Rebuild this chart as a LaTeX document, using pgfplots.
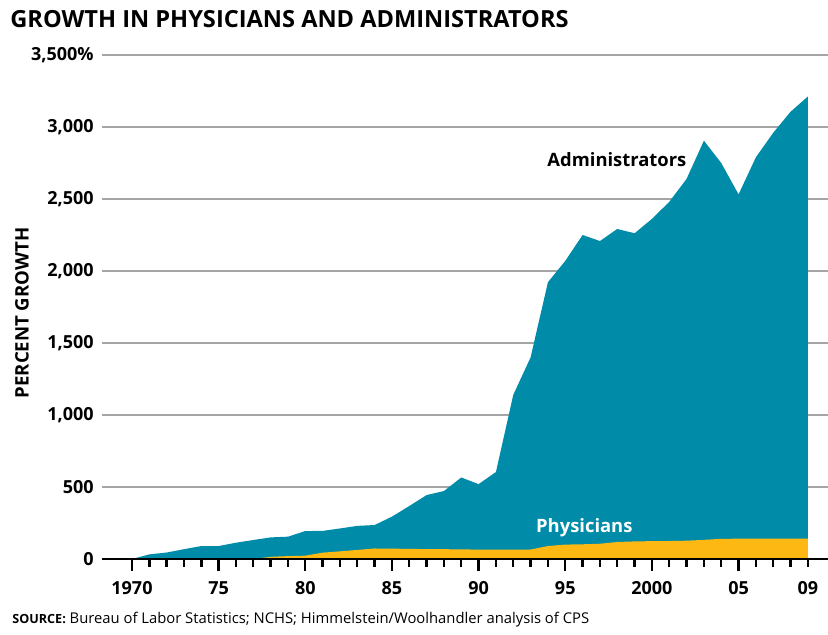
\documentclass[border=0pt]{standalone}
\usepackage{pgfplots}
\pgfplotsset{compat=1.18}
\usepackage{fontspec}
\setmainfont{Open Sans}
\definecolor{admin}{RGB}{0,140,168}
\definecolor{phys}{RGB}{253,184,19}
\definecolor{gridgray}{RGB}{165,165,165}

\pgfplotstableread{
year admin
1970 0
1971 32
1972 45
1973 68
1974 90
1975 90
1976 113
1977 132
1978 150
1979 155
1980 194
1981 195
1982 212
1983 230
1984 236
1985 294
1986 368
1987 444
1988 472
1989 566
1990 520
1991 604
1992 1140
1993 1400
1994 1922
1995 2070
1996 2250
1997 2208
1998 2292
1999 2262
2000 2362
2001 2480
2002 2640
2003 2905
2004 2750
2005 2532
2006 2790
2007 2960
2008 3106
2009 3212
}\admintab

\pgfplotstableread{
year phys
1970 0
1977 0
1978 15
1979 20
1980 23
1981 44
1982 53
1983 63
1984 73
1985 72
1986 70
1987 69
1988 68
1989 67
1990 65
1991 65
1992 65
1993 66
1994 90
1995 100
1996 102
1997 106
1998 118
1999 122
2000 124
2001 125
2002 127
2003 133
2004 140
2005 141
2006 141
2007 141
2008 141
2009 141
}\phystab

\begin{document}
\begin{tikzpicture}
\useasboundingbox (-51pt,-38pt) rectangle (363pt,279.5pt);
\begin{axis}[
    at={(0,0)}, anchor=south west,
    scale only axis, width=363pt, height=252pt,
    xmin=1968.27, xmax=2010.16,
    ymin=0, ymax=3500,
    axis x line*=bottom, axis y line*=left,
    y axis line style={draw=none},
    x axis line style={-, line width=0.8pt},
    ymajorgrids=true,
    grid style={gridgray, line width=0.8pt},
    ytick={0,500,...,3500},
    yticklabels={0,500,{1,000},{1,500},{2,000},{2,500},{3,000},{3,500\%}},
    ytick style={draw=none},
    yticklabel style={anchor=east, inner sep=0pt, xshift=2pt,
        font=\bfseries\fontsize{9}{9}\selectfont},
    xtick={1970,1975,...,2005},
    xticklabels={1970,75,80,85,90,95,2000,05},
    minor xtick={1971,...,2008},
    extra x ticks={2009},
    extra x tick labels={09},
    extra x tick style={major tick length=4pt, xticklabel style={yshift=-2pt}},
    tick align=outside,
    major tick length=6pt, minor tick length=4pt,
    xtick style={black, line width=1.2pt},
    xticklabel style={anchor=north, inner sep=0pt, yshift=-5pt,
        font=\bfseries\fontsize{9}{9}\selectfont},
]
\addplot[fill=admin, draw=none] table[x=year, y=admin] {\admintab} \closedcycle;
\addplot[fill=phys, draw=none] table[x=year, y=phys] {\phystab} \closedcycle;
\node[font=\bfseries\fontsize{9.2}{9.2}\selectfont, text=black] at (axis cs:1997.98,2771) {Administrators};
\node[font=\bfseries\fontsize{9.2}{9.2}\selectfont, text=white] at (axis cs:1996.1,215) {Physicians};
\draw[black, line width=0.8pt] (rel axis cs:0,0) -- (rel axis cs:1,0);
\end{axis}
\node[rotate=90, inner sep=0pt, font=\bfseries\fontsize{9.3}{9.3}\selectfont] at (-40pt,123pt) {PERCENT GROWTH};
\node[anchor=west, inner sep=0pt, font=\bfseries\fontsize{11.8}{11.8}\selectfont] at (-46pt,270pt) {GROWTH IN PHYSICIANS AND ADMINISTRATORS};
\node[anchor=west, inner sep=0pt, font=\fontsize{7.4}{7.4}\selectfont] at (-45pt,-30.5pt) {{\bfseries\fontsize{6.3}{6.3}\selectfont SOURCE:} Bureau of Labor Statistics; NCHS; Himmelstein/Woolhandler analysis of CPS};
\end{tikzpicture}
\end{document}
